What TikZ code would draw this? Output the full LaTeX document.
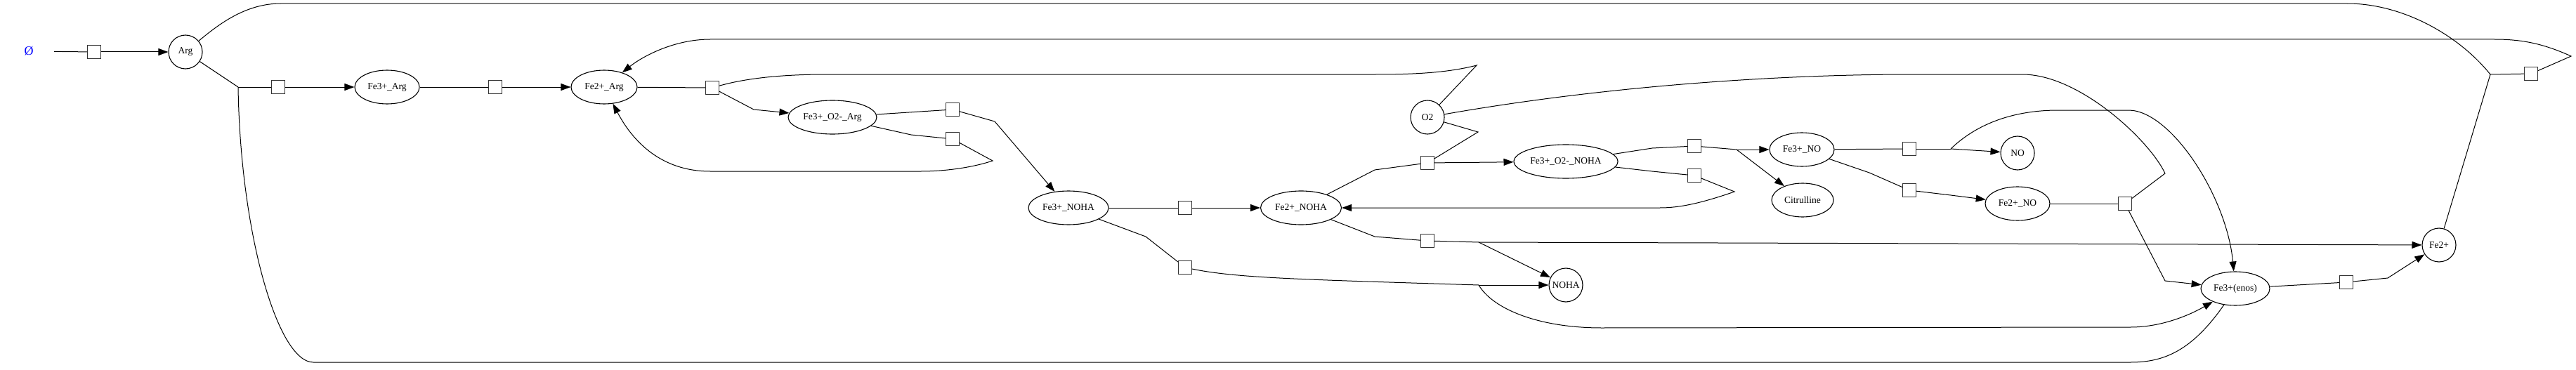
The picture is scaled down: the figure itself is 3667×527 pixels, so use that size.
\documentclass[tikz,border=0pt]{standalone}
\usepackage{fontspec}
\setmainfont{Liberation Serif}
\usetikzlibrary{shapes.geometric,arrows.meta}
\tikzset{
  sp/.style={draw=black, ellipse, minimum height=48pt, inner sep=0pt, line width=1.1pt},
  rx/.style={draw=black!80, rectangle, minimum size=19pt, inner sep=0pt, line width=1.1pt, fill=white},
  ed/.style={line width=1pt, black},
  pr/.style={ed, -{Triangle[length=14pt,width=10pt]}},
}
\begin{document}
\begin{tikzpicture}[x=1pt,y=-1pt,font=\fontsize{13.5}{16}\selectfont]
\useasboundingbox (0,0) rectangle (3667,527);
% species
\node[minimum width=72pt, inner sep=0pt, text=blue, font=\fontsize{18}{20}\selectfont] (empty) at (41,73) {Ø};
\node[sp, minimum width=48pt, label=center:{Arg}] (Arg) at (264,74) {};
\node[sp, minimum width=92pt, label=center:{Fe3+\_Arg}] (Fe3Arg) at (551,124) {};
\node[sp, minimum width=94pt, label=center:{Fe2+\_Arg}] (Fe2Arg) at (860,124) {};
\node[sp, minimum width=126pt, label=center:{Fe3+\_O2-\_Arg}] (Fe3O2Arg) at (1185,167) {};
\node[sp, minimum width=114pt, label=center:{Fe3+\_NOHA}] (Fe3NOHA) at (1521,296) {};
\node[sp, minimum width=115pt, label=center:{Fe2+\_NOHA}] (Fe2NOHA) at (1852,296) {};
\node[sp, minimum width=48pt, label=center:{O2}] (O2) at (2032,167) {};
\node[sp, minimum width=148pt, label=center:{Fe3+\_O2-\_NOHA}] (Fe3O2NOHA) at (2229,230) {};
\node[sp, minimum width=48pt, label=center:{NOHA}] (NOHA) at (2229,406) {};
\node[sp, minimum width=92pt, label=center:{Fe3+\_NO}] (Fe3NO) at (2565,213) {};
\node[sp, minimum width=88pt, label=center:{Citrulline}] (Citrulline) at (2566,285) {};
\node[sp, minimum width=48pt, label=center:{NO}] (NO) at (2872,218) {};
\node[sp, minimum width=92pt, label=center:{Fe2+\_NO}] (Fe2NO) at (2872,290) {};
\node[sp, minimum width=98pt, label=center:{Fe3+(enos)}] (Fe3enos) at (3182,411) {};
\node[sp, minimum width=48pt, label=center:{Fe2+}] (Fe2) at (3472,349) {};
% reaction boxes
\node[rx] (b1) at (134,74) {};
\node[rx] (b2) at (396,124) {};
\node[rx] (b3) at (705,124) {};
\node[rx] (b4) at (1014,125) {};
\node[rx] (b5) at (1356,156) {};
\node[rx] (b6) at (1356,198) {};
\node[rx] (b7) at (1687,296) {};
\node[rx] (b8) at (1687,381) {};
\node[rx] (b9) at (2032,232) {};
\node[rx] (b10) at (2032,343) {};
\node[rx] (b11) at (2412,208) {};
\node[rx] (b12) at (2412,250) {};
\node[rx] (b13) at (2718,212) {};
\node[rx] (b14) at (2718,271) {};
\node[rx] (b15) at (3025,290) {};
\node[rx] (b16) at (3340,402) {};
\node[rx] (b17) at (3603,105) {};
% junctions
\coordinate (j1) at (339,124);
\coordinate (j8) at (2105,406);
\coordinate (j10) at (2105,345);
\coordinate (j11) at (2472,213);
\coordinate (j13) at (2777,212);
\coordinate (j17) at (3545,106);
% edges
\draw[ed] (empty) -- (b1);
\draw[pr] (b1) -- (Arg);
% Arg + Fe3+(enos) -> Fe3+_Arg
\draw[ed] (Arg) -- (j1);
\draw[ed] (Fe3enos) .. controls (3120,500) and (3080,516) .. (3033,516) -- (446,516) .. controls (395,516) and (342,330) .. (j1);
\draw[ed] (j1) -- (b2);
\draw[pr] (b2) -- (Fe3Arg);
% Fe3+_Arg -> Fe2+_Arg
\draw[ed] (Fe3Arg) -- (b3);
\draw[pr] (b3) -- (Fe2Arg);
% Arg + Fe2+ -> Fe2+_Arg
\draw[ed] (Arg) .. controls (312,34) and (350,5) .. (400,5) -- (3341,5) .. controls (3420,5) and (3500,50) .. (j17);
\draw[ed] (Fe2) -- (j17);
\draw[ed] (j17) -- (b17);
\draw[pr] (b17) -- (3660,80) .. controls (3620,62) and (3590,56) .. (3551,56) -- (1011,56) .. controls (960,56) and (915,80) .. (Fe2Arg);
% Fe2+_Arg + O2 -> Fe3+_O2-_Arg
\draw[ed] (Fe2Arg) -- (b4);
\draw[ed] (O2) -- (2102,93) .. controls (2060,104) and (2010,106) .. (1958,106) -- (1176,106) .. controls (1110,106) and (1060,112) .. (b4);
\draw[pr] (b4) -- (1073,156) -- (Fe3O2Arg);
% Fe3+_O2-_Arg -> Fe3+_NOHA
\draw[ed] (Fe3O2Arg) -- (b5);
\draw[pr] (b5) -- (1416,173) -- (Fe3NOHA);
% Fe3+_O2-_Arg -> Fe2+_Arg
\draw[ed] (Fe3O2Arg) -- (1297,192) -- (b6);
\draw[pr] (b6) -- (1413,229) .. controls (1380,240) and (1340,244) .. (1311,244) -- (1011,244) .. controls (940,244) and (900,200) .. (Fe2Arg);
% Fe3+_NOHA -> Fe2+_NOHA
\draw[ed] (Fe3NOHA) -- (b7);
\draw[pr] (b7) -- (Fe2NOHA);
% Fe3+_NOHA -> NOHA + Fe3+(enos)
\draw[ed] (Fe3NOHA) -- (1631,337) -- (b8);
\draw[ed] (b8) .. controls (1760,396) and (1850,398) .. (j8);
\draw[pr] (j8) -- (NOHA);
\draw[pr] (j8) .. controls (2125,440) and (2190,467) .. (2280,467) -- (3033,466) .. controls (3075,466) and (3115,450) .. (Fe3enos);
% Fe2+_NOHA + O2 -> Fe3+_O2-_NOHA
\draw[ed] (Fe2NOHA) -- (1957,242) -- (b9);
\draw[ed] (O2) -- (2104,188) -- (b9);
\draw[pr] (b9) -- (Fe3O2NOHA);
% Fe2+_NOHA -> NOHA + Fe2+
\draw[ed] (Fe2NOHA) -- (1957,337) -- (b10);
\draw[ed] (b10) -- (j10);
\draw[pr] (j10) -- (NOHA);
\draw[pr] (j10) -- (Fe2);
% Fe3+_O2-_NOHA -> Fe3+_NO + Citrulline
\draw[ed] (Fe3O2NOHA) -- (2352,211) -- (b11);
\draw[ed] (b11) -- (j11);
\draw[pr] (j11) -- (Fe3NO);
\draw[pr] (j11) -- (Citrulline);
% Fe3+_O2-_NOHA -> Fe2+_NOHA
\draw[ed] (Fe3O2NOHA) -- (2352,244) -- (b12);
\draw[pr] (b12) -- (2469,273) .. controls (2420,290) and (2390,296) .. (2363,296) -- (Fe2NOHA);
% Fe3+_NO -> NO + Fe3+(enos)
\draw[ed] (Fe3NO) -- (b13);
\draw[ed] (b13) -- (j13);
\draw[pr] (j13) -- (NO);
\draw[pr] (j13) .. controls (2810,180) and (2860,157) .. (2930,157) -- (3030,157) .. controls (3090,157) and (3170,280) .. (Fe3enos);
% Fe3+_NO -> Fe2+_NO
\draw[ed] (Fe3NO) -- (2661,246) -- (b14);
\draw[pr] (b14) -- (2777,278) -- (Fe2NO);
% Fe2+_NO + O2 -> Fe3+(enos)
\draw[ed] (Fe2NO) -- (b15);
\draw[ed] (O2) .. controls (2300,120) and (2550,106) .. (2720,106) -- (2879,106) .. controls (2960,106) and (3060,200) .. (3082,247) -- (b15);
\draw[pr] (b15) -- (3082,400) -- (Fe3enos);
% Fe3+(enos) -> Fe2+
\draw[ed] (Fe3enos) -- (b16);
\draw[pr] (b16) -- (3399,396) -- (Fe2);
\end{tikzpicture}
\end{document}
